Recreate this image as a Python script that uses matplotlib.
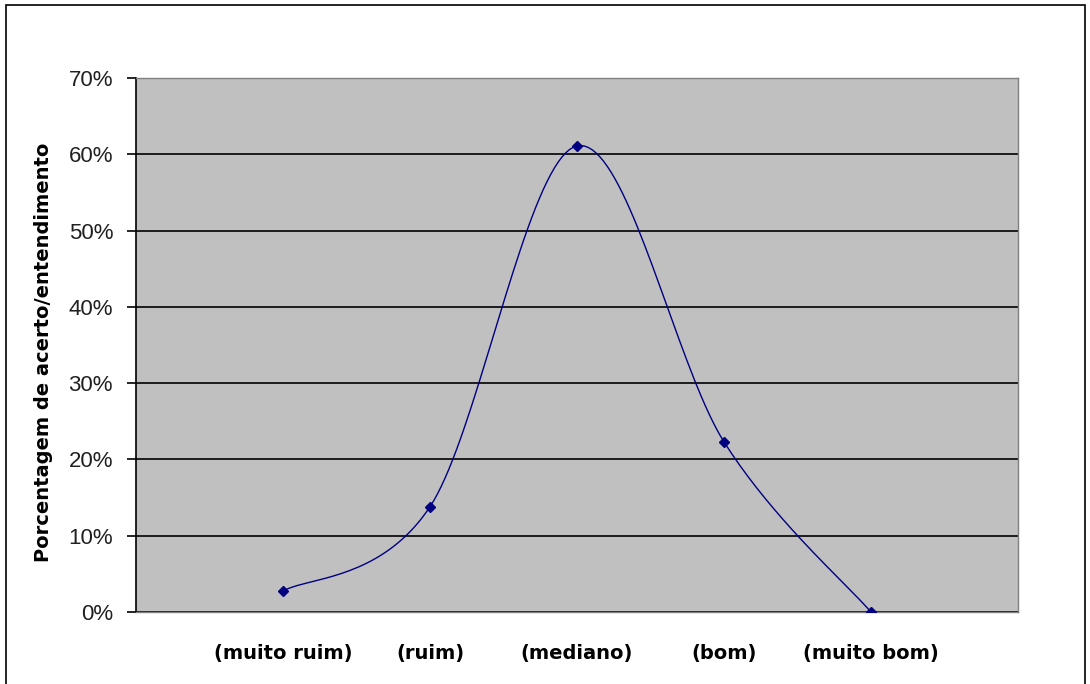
import numpy as np
import matplotlib
matplotlib.use("Agg")
import matplotlib.pyplot as plt
from matplotlib.ticker import PercentFormatter
from matplotlib.patches import Rectangle

# Data
categories = ['(muito ruim)', '(ruim)', '(mediano)', '(bom)', '(muito bom)']
acerto = [2.75, 13.8, 61.1, 22.3, 0.0]   # percent

plt.rcParams['font.family'] = ['Liberation Sans', 'DejaVu Sans']

navy = '#000080'


def smooth_curve(x, y, n=40):
    # Catmull-Rom style smoothing like Excel's "smoothed line"
    x = np.asarray(x, float)
    y = np.asarray(y, float)
    px = np.concatenate([[x[0]], x, [x[-1]]])
    py = np.concatenate([[y[0]], y, [y[-1]]])
    xs, ys = [], []
    for i in range(1, len(px) - 2):
        p0, p1, p2, p3 = (np.array([px[j], py[j]]) for j in (i - 1, i, i + 1, i + 2))
        c1 = p1 + (p2 - p0) / 6.0
        c2 = p2 - (p3 - p1) / 6.0
        t = np.linspace(0, 1, n)[:, None]
        pts = ((1 - t) ** 3) * p1 + 3 * ((1 - t) ** 2) * t * c1 + 3 * (1 - t) * t ** 2 * c2 + t ** 3 * p2
        xs.append(pts[:, 0])
        ys.append(pts[:, 1])
    return np.concatenate(xs), np.concatenate(ys)


fig = plt.figure(figsize=(10.9, 6.84), dpi=100)
ax = fig.add_axes([136 / 1090, 1 - 612 / 684, (1018 - 136) / 1090, (612 - 78) / 684])

xpos = np.arange(1, len(categories) + 1)
sx, sy = smooth_curve(xpos, acerto)
ax.plot(sx, sy, color=navy, lw=1.0, zorder=3)
ax.plot(xpos, acerto, linestyle='none', marker='D', ms=5.5, color=navy, zorder=4)

ax.set_facecolor('#c0c0c0')
ax.set_xlim(0, len(categories) + 1)
ax.set_ylim(0, 70)
ax.set_yticks(np.arange(0, 71, 10))
ax.yaxis.set_major_formatter(PercentFormatter(decimals=0))
ax.set_xticks(xpos)
ax.set_xticklabels(categories, fontsize=14, fontweight='bold', family='DejaVu Sans')
ax.tick_params(axis='x', length=0, pad=23)
ax.tick_params(axis='y', direction='out', length=6.5, width=1.2, labelsize=16, pad=10, colors='black')
for lbl in ax.get_yticklabels():
    lbl.set_color('#202020')
ax.grid(axis='y', color='black', lw=1.2)
ax.set_axisbelow(True)

for side in ['top', 'right', 'bottom']:
    ax.spines[side].set_color('#808080')
    ax.spines[side].set_linewidth(1)
ax.spines['left'].set_color('black')
ax.spines['left'].set_linewidth(1.2)

fig.text(44 / 1090, 1 - 352 / 684, 'Porcentagem de acerto/entendimento', rotation=90,
         ha='center', va='center', fontsize=14, fontweight='bold', family='DejaVu Sans')

# outer chart border
fig.patches.append(Rectangle((6 / 1090, -0.01), (1085 - 6) / 1090, (684 - 5) / 684 + 0.01,
                             transform=fig.transFigure, fill=False, edgecolor='black', lw=1.2))

fig.savefig('out.png', dpi=100)
